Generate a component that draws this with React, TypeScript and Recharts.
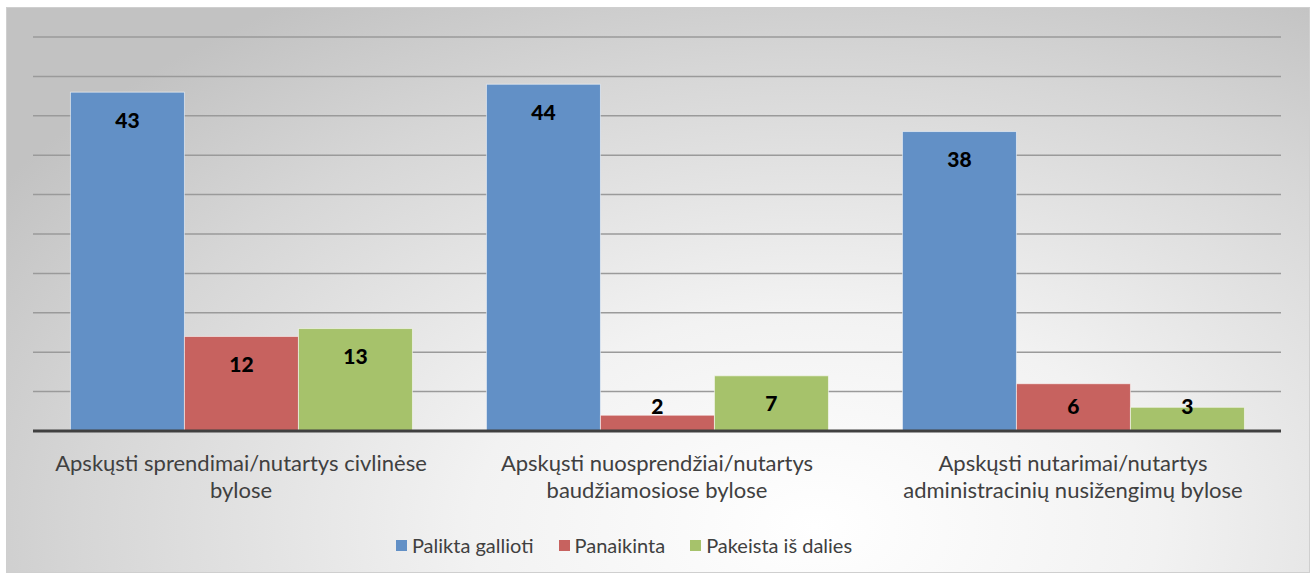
import { Bar, BarChart, CartesianGrid, LabelList, Legend, XAxis, YAxis } from "recharts"

const categories = [
    "Apskųsti sprendimai/nutartys civlinėse|bylose",
    "Apskųsti nuosprendžiai/nutartys|baudžiamosiose bylose",
    "Apskųsti nutarimai/nutartys|administracinių nusižengimų bylose",
]
const palikta = [43, 44, 38]
const panaikinta = [12, 2, 6]
const pakeista = [13, 7, 3]
const yTicks = [0, 5, 10, 15, 20, 25, 30, 35, 40, 45, 50]

const series = [
    { key: "palikta", name: "Palikta gallioti", color: "#6290c6" },
    { key: "panaikinta", name: "Panaikinta", color: "#c7625f" },
    { key: "pakeista", name: "Pakeista iš dalies", color: "#a6c26b" },
]

const data = categories.map((name, i) => ({
    name,
    palikta: palikta[i],
    panaikinta: panaikinta[i],
    pakeista: pakeista[i],
}))

const FONT = "Lato, 'Open Sans', sans-serif"

function CategoryTick(props: any) {
    const { x, y, payload } = props
    const lines = String(payload.value).split("|")
    return (
        <text x={x} y={y} textAnchor="middle" fill="#404040" fontSize={22} fontFamily={FONT}>
            {lines.map((line, i) => (
                <tspan key={i} x={x} dy={i === 0 ? 32 : 27}>
                    {line}
                </tspan>
            ))}
        </text>
    )
}

function BarValue(props: any) {
    const { x, y, width, height, value } = props
    const bottom = y + height
    const cy = Math.min(y + 28, bottom - 25)
    return (
        <text
            x={x + width / 2}
            y={cy}
            dy={7.5}
            textAnchor="middle"
            fill="#000"
            fontSize={21}
            fontWeight={900}
            fontFamily={FONT}
        >
            {value}
        </text>
    )
}

function LegendContent() {
    return (
        <div
            style={{
                display: "flex",
                justifyContent: "center",
                alignItems: "center",
                gap: 25,
                height: 30,
                fontFamily: FONT,
                fontSize: 20,
                color: "#404040",
                paddingRight: 66,
            }}
        >
            {series.map((s) => (
                <div key={s.key} style={{ display: "flex", alignItems: "center" }}>
                    <span
                        style={{
                            display: "inline-block",
                            width: 11,
                            height: 11,
                            background: s.color,
                            marginRight: 5,
                        }}
                    />
                    <span>{s.name}</span>
                </div>
            ))}
        </div>
    )
}

export default function App() {
    return (
        <div
            style={{
                position: "absolute",
                left: 6,
                top: 7,
                width: 1304,
                height: 566,
                boxSizing: "border-box",
                border: "1px solid #cfcfcf",
                background:
                    "radial-gradient(ellipse 75% 110% at 62% 92%, #ffffff 0%, #f2f2f2 35%, #d6d6d6 75%, #c2c2c2 100%)",
            }}
        >
            <BarChart
                width={1302}
                height={564}
                data={data}
                margin={{ top: 29, right: 28, left: 26, bottom: 12 }}
                barCategoryGap="9%"
                barGap={0}
            >
                <CartesianGrid vertical={false} stroke="#9a9a9a" strokeWidth={1.5} />
                <YAxis hide domain={[0, 50]} ticks={yTicks} />
                <XAxis
                    dataKey="name"
                    height={99}
                    tickLine={false}
                    axisLine={{ stroke: "#404040", strokeWidth: 3 }}
                    tick={<CategoryTick />}
                    interval={0}
                />
                <Legend verticalAlign="bottom" height={30} content={<LegendContent />} />
                {series.map((s) => (
                    <Bar
                        key={s.key}
                        dataKey={s.key}
                        name={s.name}
                        fill={s.color}
                        stroke="rgba(255,255,255,0.55)"
                        strokeWidth={1}
                        isAnimationActive={false}
                    >
                        <LabelList dataKey={s.key} content={<BarValue />} />
                    </Bar>
                ))}
            </BarChart>
        </div>
    )
}
